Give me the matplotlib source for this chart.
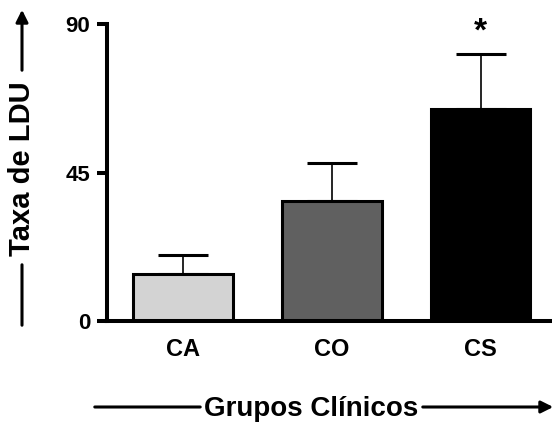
import matplotlib
matplotlib.use('Agg')
import matplotlib.pyplot as plt

plt.rcParams['font.family'] = ['Liberation Sans', 'DejaVu Sans']
plt.rcParams['font.weight'] = 'bold'

grupos = ['CA', 'CO', 'CS']
taxa = [14.3, 36.5, 64.3]
erro = [5.8, 11.4, 16.6]
cores = ['#d3d3d3', '#606060', '#000000']
yticks = [0, 45, 90]

fig = plt.figure(figsize=(5.52, 4.25), dpi=100)
ax = fig.add_axes([0.194, 0.2447, 0.806, 0.6988])

x = range(len(grupos))
ax.bar(x, taxa, width=0.67, color=cores, edgecolor='black', linewidth=2.2, zorder=2)
ax.errorbar(x, taxa, yerr=[[0] * len(erro), erro], fmt='none', ecolor='black',
            elinewidth=1.2, capsize=18, capthick=2.2, zorder=1)

ax.text(2, 87.5, '*', ha='center', va='center', fontsize=24, fontweight='bold', clip_on=False)

ax.set_xlim(-0.51, 2.48)
ax.set_ylim(0, 90)
ax.tick_params(axis='y', width=2.9, length=7, pad=5)
ax.tick_params(axis='x', length=0, pad=12)
ax.set_yticks(yticks)
ax.set_yticklabels([str(v) for v in yticks], fontsize=16, fontweight='heavy')
ax.set_xticks(list(x))
ax.set_xticklabels(grupos, fontsize=17, fontweight='bold')

for s in ['top', 'right']:
    ax.spines[s].set_visible(False)
for s in ['left', 'bottom']:
    ax.spines[s].set_linewidth(2.9)

# rótulos com setas
fig.text(22 / 552, (425 - 169) / 425, 'Taxa de LDU', rotation=90, ha='center', va='center',
         fontsize=21, fontweight='bold')
ax.annotate('', xy=(22, 418), xytext=(22, 352), xycoords='figure pixels',
            textcoords='figure pixels', arrowprops=dict(arrowstyle='-|>', lw=2.2, color='k',
                                                        mutation_scale=18))
ax.annotate('', xy=(22, 97), xytext=(22, 163), xycoords='figure pixels',
            textcoords='figure pixels', arrowprops=dict(arrowstyle='-', lw=2.2, color='k'))

fig.text(311 / 552, 16 / 425, 'Grupos Clínicos', ha='center', va='center',
         fontsize=20, fontweight='bold')
ax.annotate('', xy=(92, 18), xytext=(203, 18), xycoords='figure pixels',
            textcoords='figure pixels', arrowprops=dict(arrowstyle='-', lw=2.2, color='k'))
ax.annotate('', xy=(556, 18), xytext=(420, 18), xycoords='figure pixels',
            textcoords='figure pixels', arrowprops=dict(arrowstyle='-|>', lw=2.2, color='k',
                                                        mutation_scale=18))

fig.savefig('out.png', dpi=100)
